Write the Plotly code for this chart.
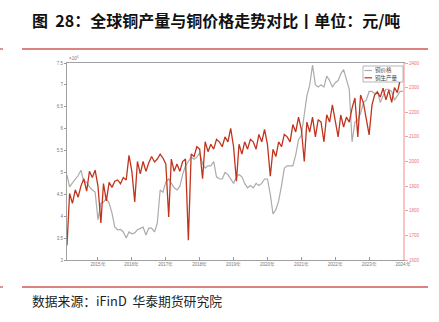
import plotly.graph_objects as go
import pandas as pd

# Monthly, Feb 2014 .. Jan 2024
months = pd.date_range("2014-02-01", "2024-01-01", freq="MS")

# 铜价格 (元/吨)
price = [
    49400, 46700, 47600, 48400, 49300, 50500, 48000, 47800, 46700, 46000, 45500,  # 2014 Feb-Dec
    39200, 43000, 43200, 44100, 43000, 40700, 37500, 36900, 37000, 36400, 35000, 36400,  # 2015
    36000, 36200, 36900, 37200, 37500, 35700, 37300, 37300, 36400, 38400, 46000, 45500,  # 2016
    47800, 48500, 47500, 46500, 46000, 46800, 49500, 51500, 52500, 53500, 53000, 53500,  # 2017
    54500, 52000, 51000, 51500, 51500, 52500, 49000, 48500, 48500, 50000, 49500, 48500,  # 2018
    47500, 49000, 49500, 49000, 47500, 46500, 47000, 46500, 47500, 47000, 47500, 48500,  # 2019
    48500, 45000, 40500, 41500, 43500, 47000, 51000, 51500, 51500, 51500, 54000, 57500,  # 2020
    58500, 63500, 67500, 70000, 74500, 70000, 69500, 70000, 69500, 72000, 71000, 69500,  # 2021
    70500, 71000, 72500, 73500, 71500, 69000, 57000, 61500, 62000, 63500, 66000, 66500,  # 2022
    68500, 68500, 68000, 68500, 66000, 67500, 69000, 69000, 68500, 66500, 67500, 68500,  # 2023
    68500,  # 2024 Jan
]

# 铜生产量 (千吨)
output = [
    1660, 1870, 1830, 1885, 1855, 1900, 1930, 1880, 1960, 1935, 1965,
    1900, 1750, 1910, 1840, 1915, 1895, 1920, 1925, 1910, 1935, 1925, 2025,
    1960, 1836, 2000, 1950, 2000, 1960, 1995, 2020, 1998, 2010, 2030, 2014,
    1990, 1775, 2010, 1960, 1990, 1960, 2000, 2010, 1680, 2030, 2020, 2060,
    2050, 1930, 2080, 2040, 2070, 2050, 2090, 2080, 2060, 2100, 2080, 2135,
    2060, 1920, 2070, 2030, 2080, 2050, 2090, 2080, 2050, 2110, 2080, 2130,
    2070, 1940, 2050, 2020, 2080, 2060, 2110, 2100, 2080, 2150, 2120, 2180,
    2130, 2000, 2160, 2120, 2180, 2100, 2170, 2160, 2080, 2190, 2160, 2230,
    2160, 2100, 2189, 2140, 2180, 2160, 2217, 2258, 2100, 2270, 2237, 2180,
    2108, 2230, 2270, 2282, 2262, 2298, 2250, 2290, 2240, 2300, 2280, 2330,
    2350,
]

series_names = ["铜价格", "铜生产量"]
series_colors = ["#ABABAB", "#C0341D"]

year_ticks = pd.date_range("2015-01-01", "2024-01-01", freq="YS")
year_labels = [f"{d.year}年" for d in year_ticks]

left_vals = [30000 + 5000 * i for i in range(10)]
left_text = ["3", "3.5", "4", "4.5", "5", "5.5", "6", "6.5", "7", "7.5"]
right_vals = [1600 + 100 * i for i in range(9)]
right_text = [str(v) for v in right_vals]

fig = go.Figure()
fig.add_trace(go.Scatter(x=months, y=price, name=series_names[0], mode="lines",
                         line=dict(color=series_colors[0], width=1.2)))
fig.add_trace(go.Scatter(x=months, y=output, name=series_names[1], mode="lines",
                         line=dict(color=series_colors[1], width=1.3), yaxis="y2"))

tiny = dict(family="Liberation Sans, Arial", size=4.5, color="#777777")

L, R, T, B = 67, 403, 63, 260
W, H = R - L, B - T


def px(x):
    return (x - L) / W


def py(y):
    return (B - y) / H


fig.update_layout(
    width=439, height=322,
    margin=dict(l=L, r=439 - R, t=T, b=322 - B),
    paper_bgcolor="white", plot_bgcolor="white",
    showlegend=False,
    xaxis=dict(type="date", range=[months[0], months[-1]],
               tickvals=list(year_ticks), ticktext=year_labels,
               tickfont=tiny, ticks="inside", ticklen=3, tickcolor="#999999",
               showline=True, linecolor="#A0A0A0", linewidth=1, mirror=True,
               showgrid=False, zeroline=False),
    yaxis=dict(range=[30000, 75000], tickvals=left_vals, ticktext=left_text,
               tickfont=tiny, ticks="outside", ticklen=2, tickcolor="#999999",
               showline=True, linecolor="#A0A0A0", linewidth=1,
               showgrid=False, zeroline=False),
    yaxis2=dict(range=[1600, 2400], overlaying="y", side="right",
                tickvals=right_vals, ticktext=right_text,
                tickfont=dict(family="Liberation Sans, Arial", size=4.5, color="#F07070"),
                ticks="outside", ticklen=3, tickcolor="#F5A0A0",
                showline=True, linecolor="#F8C4C4", linewidth=2,
                showgrid=False, zeroline=False),
)

# x10^4 label
fig.add_annotation(x=0, y=1.0, xref="paper", yref="paper", text="×10<sup>4</sup>",
                   showarrow=False, xanchor="left", yanchor="bottom",
                   font=dict(family="Liberation Sans, Arial", size=4.5, color="#777777"))

# Custom small legend box (top right)
fig.add_shape(type="rect", xref="paper", yref="paper",
              x0=px(363), x1=px(403), y0=py(82), y1=py(66),
              line=dict(color="#9A9A9A", width=0.7), fillcolor="white", layer="above")
for i, (nm, col) in enumerate(zip(series_names, series_colors)):
    yy = 70.5 + i * 7.3
    fig.add_shape(type="line", xref="paper", yref="paper",
                  x0=px(364.5), x1=px(372), y0=py(yy), y1=py(yy),
                  line=dict(color=col, width=1.2), layer="above")
    fig.add_annotation(x=px(373), y=py(yy), xref="paper", yref="paper", text=nm,
                       showarrow=False, xanchor="left", yanchor="middle",
                       font=dict(family="Noto Sans CJK SC", size=5.5, color="#444444"))

# Title
fig.add_annotation(x=px(30), y=py(20), xref="paper", yref="paper",
                   text="<b>图  28：全球铜产量与铜价格走势对比丨单位：元/吨</b>",
                   showarrow=False, xanchor="left", yanchor="middle",
                   font=dict(family="Noto Sans CJK SC", size=16, color="#111111"))
# Footer
fig.add_annotation(x=px(30), y=py(300), xref="paper", yref="paper",
                   text="数据来源：iFinD  华泰期货研究院",
                   showarrow=False, xanchor="left", yanchor="middle",
                   font=dict(family="Noto Sans CJK SC", size=12.8, color="#222222"))

line_col = "#D05A5A"
for yl in [49, 287]:
    fig.add_shape(type="line", xref="paper", yref="paper",
                  x0=px(22), x1=px(428), y0=py(yl), y1=py(yl),
                  line=dict(color=line_col, width=1.3))
    fig.add_shape(type="line", xref="paper", yref="paper",
                  x0=px(0), x1=px(3), y0=py(yl), y1=py(yl),
                  line=dict(color=line_col, width=1.3))

fig.write_html("out.html")
